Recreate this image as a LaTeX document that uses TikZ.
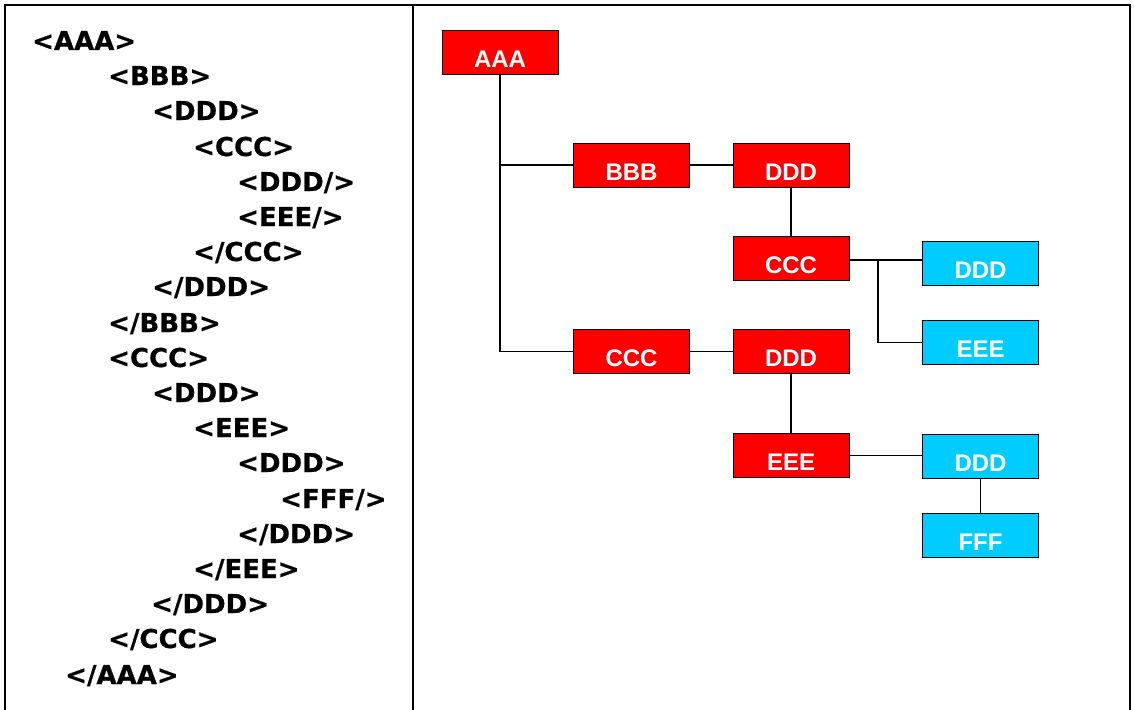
\documentclass[tikz,border=0pt]{standalone}
\usepackage{fontspec}
\setmainfont{DejaVu Sans}
\newfontfamily\codefont{DejaVu Sans Bold}[FakeBold=0.6]
\newfontfamily\boxfont{Liberation Sans}
\begin{document}
\begin{tikzpicture}[x=1pt,y=-1pt,
  frame/.style={line width=2.5pt,line cap=rect},
  code/.style={anchor=base west,inner sep=0pt,font=\codefont\fontsize{26}{30}\selectfont},
  tbox/.style={draw=black,line width=0.9pt,minimum width=116pt,inner sep=0pt,
    text height=37pt,text depth=7pt,text=white,font=\boxfont\fontsize{24}{28}\selectfont\bfseries},
  rbox/.style={tbox,fill=red},
  cbox/.style={tbox,fill={rgb,255:red,0;green,204;blue,255}},
  link/.style={line width=1.5pt}]
\useasboundingbox (0,0) rectangle (1134,709);
% frame
\draw[frame] (5,709) -- (5,5) -- (1130,5) -- (1130,709);
\draw[frame] (413,5) -- (413,709);
% code listing
\node[code] (l0)  at (32,50)   {<AAA>};
\node[code] (l1)  at (108,85)  {<BBB>};
\node[code] (l2)  at (152,120) {<DDD>};
\node[code] (l3)  at (193,156) {<CCC>};
\node[code] (l4)  at (237,191) {<DDD/>};
\node[code] (l5)  at (237,226) {<EEE/>};
\node[code] (l6)  at (193,261) {</CCC>};
\node[code] (l7)  at (152,296) {</DDD>};
\node[code] (l8)  at (108,332) {</BBB>};
\node[code] (l9)  at (108,367) {<CCC>};
\node[code] (l10) at (152,402) {<DDD>};
\node[code] (l11) at (193,437) {<EEE>};
\node[code] (l12) at (237,472) {<DDD>};
\node[code] (l13) at (280,508) {<FFF/>};
\node[code] (l14) at (237,543) {</DDD>};
\node[code] (l15) at (193,578) {</EEE>};
\node[code] (l16) at (151,613) {</DDD>};
\node[code] (l17) at (108,648) {</CCC>};
\node[code] (l18) at (65,684)  {</AAA>};
% tree boxes
\node[rbox] (aaa)  at (500,52)    {AAA};
\node[rbox] (bbb)  at (631.5,165) {BBB};
\node[rbox] (ddd1) at (791,165)   {DDD};
\node[rbox] (ccc2) at (791,258.5) {CCC};
\node[cbox] (ddd3) at (980.5,263.5) {DDD};
\node[cbox] (eee2) at (980.5,342.5) {EEE};
\node[rbox] (ccc1) at (631.5,351.5) {CCC};
\node[rbox] (ddd2) at (791,351.5) {DDD};
\node[rbox] (eee1) at (791,455.5) {EEE};
\node[cbox] (ddd4) at (980.5,456.5) {DDD};
\node[cbox] (fff)  at (980.5,535) {FFF};
% connectors
\draw[link] (aaa.south) |- (bbb.west);
\draw[link] (aaa.south) |- (ccc1.west);
\draw[link] (bbb.east) -- (ddd1.west);
\draw[link] (ddd1.south) -- (ccc2.north);
\coordinate (j) at (878,260);
\draw[link] (ccc2.east |- j) -- (j) -- (ddd3.west |- j);
\draw[link] (j) |- (eee2.west);
\draw[link] (ccc1.east) -- (ddd2.west);
\draw[link] (ddd2.south) -- (eee1.north);
\draw[link] (eee1.east) -- (ddd4.west |- eee1.east);
\draw[link] (ddd4.south) -- (fff.north);
\end{tikzpicture}
\end{document}
